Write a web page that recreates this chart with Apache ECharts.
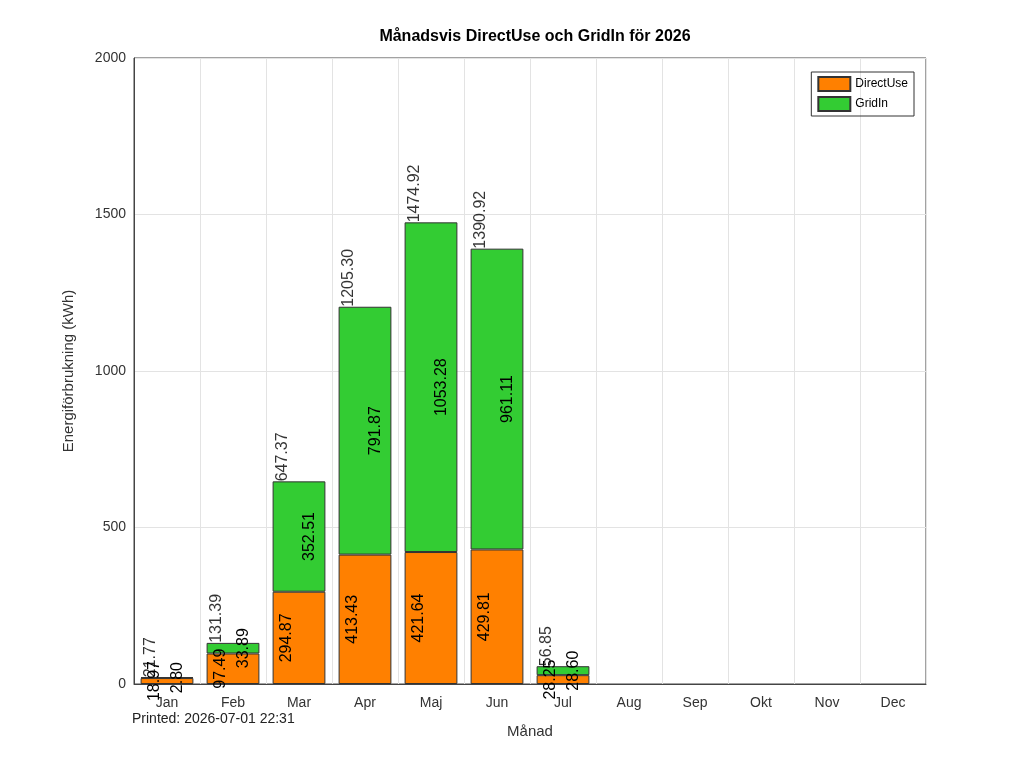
<!DOCTYPE html>
<html><head><meta charset="utf-8">
<script src="https://cdn.jsdelivr.net/npm/echarts@6/dist/echarts.min.js"></script>
<style>body{margin:0;background:#fff}#c{width:1024px;height:768px}</style>
</head><body><div id="c"></div>
<script>
const months = ['Jan','Feb','Mar','Apr','Maj','Jun','Jul','Aug','Sep','Okt','Nov','Dec'];
const directUse = [18.97, 97.49, 294.87, 413.43, 421.64, 429.81, 28.25, 0, 0, 0, 0, 0];
const gridIn = [2.80, 33.89, 352.51, 791.87, 1053.28, 961.11, 28.60, 0, 0, 0, 0, 0];
const totals = [21.77, 131.39, 647.37, 1205.30, 1474.92, 1390.92, 56.85, 0, 0, 0, 0, 0];

const font = 'Liberation Sans';
let chart = echarts.init(document.getElementById('c'));
// rotated value label inside a segment (offset is in the rotated frame)
function segLabel(dx) {
  return {
    show: true, position: 'inside', rotate: 90, offset: [0, dx],
    fontSize: 16, color: '#000', fontFamily: font,
    formatter: p => p.value > 0 ? p.value.toFixed(2) : ''
  };
}
let option = {
  animation: false,
  textStyle: { fontFamily: font },
  title: {
    text: 'Månadsvis DirectUse och GridIn för 2026', left: 530, top: 24, textAlign: 'center',
    textStyle: { fontSize: 16, fontWeight: 'bold', color: '#000' }
  },
  legend: {
    right: 110, top: 72, orient: 'vertical', itemGap: 4, icon: 'rect',
    itemWidth: 32, itemHeight: 14,
    borderColor: '#333', borderWidth: 1, borderRadius: 0, padding: [4, 6],
    textStyle: { fontSize: 12, color: '#000' },
    data: ['DirectUse', 'GridIn']
  },
  graphic: [{
    type: 'text', left: 132, top: 712,
    style: { text: 'Printed: 2026-07-01 22:31', fontSize: 14, fill: '#222', fontFamily: font }
  }],
  grid: { left: 134, right: 98, top: 58, bottom: 84, show: true, borderColor: '#444', borderWidth: 1 },
  xAxis: {
    type: 'category', data: months, name: 'Månad', nameLocation: 'middle', nameGap: 40,
    nameTextStyle: { fontSize: 15, color: '#333' },
    axisLine: { lineStyle: { color: '#444' } }, axisTick: { show: false },
    axisLabel: { fontSize: 14, color: '#333', margin: 12 },
    splitLine: { show: true, lineStyle: { color: '#e3e3e3' } }
  },
  yAxis: {
    type: 'value', min: 0, max: 2000, interval: 500, name: 'Energiförbrukning (kWh)',
    nameLocation: 'middle', nameGap: 58, nameTextStyle: { fontSize: 15, color: '#333' },
    axisLine: { show: true, lineStyle: { color: '#444' } },
    axisLabel: { fontSize: 14, color: '#333', formatter: v => String(v) },
    splitLine: { lineStyle: { color: '#e3e3e3' } }
  },
  series: [
    { name: 'DirectUse', type: 'bar', stack: 'e', data: directUse.map(v => v || null), barWidth: '80%',
      itemStyle: { color: '#ff8000', borderColor: '#333', borderWidth: 1 }, label: segLabel(-12) },
    { name: 'GridIn', type: 'bar', stack: 'e', data: gridIn.map(v => v || null),
      itemStyle: { color: '#33cc33', borderColor: '#333', borderWidth: 1 }, label: segLabel(11) },
    { name: 'Total', type: 'scatter', symbolSize: 0, silent: true,
      data: totals.map((v, i) => [months[i], v]),
      label: { show: true, position: 'top', distance: 0, rotate: 90, align: 'left', verticalAlign: 'middle',
        offset: [0, -16], fontSize: 16, color: '#000', fontFamily: font,
        formatter: p => p.value[1] > 0 ? p.value[1].toFixed(2) : '' } }
  ]
};
chart.setOption(option);
</script></body></html>
